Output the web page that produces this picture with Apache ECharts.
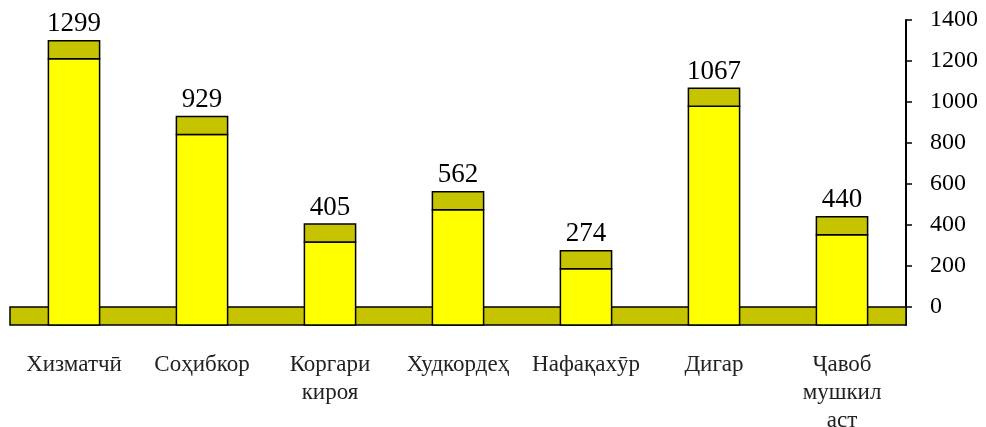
<!DOCTYPE html>
<html>
<head>
<meta charset="utf-8">
<script src="https://cdn.jsdelivr.net/npm/echarts@6/dist/echarts.min.js"></script>
<style>
  html, body { margin: 0; padding: 0; background: #fff; }
  #chart { width: 986px; height: 427px; }
</style>
</head>
<body>
<div id="chart"></div>
<script>
var categories = ['Хизматчӣ', 'Соҳибкор', 'Коргари\nкироя', 'Худкордеҳ', 'Нафақахӯр', 'Дигар', 'Ҷавоб\nмушкил\nаст'];
var values = [1299, 929, 405, 562, 274, 1067, 440];
var tickValues = [0, 200, 400, 600, 800, 1000, 1200, 1400];

// depth of the 3D floor / bar top, in axis units
var DEPTH = 88;
var YELLOW = '#ffff00';
var OLIVE = '#c6c300';

var myChart = echarts.init(document.getElementById('chart'));

function renderBar(params, api) {
    var idx = api.value(0);
    var v = api.value(1);
    var top = api.coord([idx, v]);
    var mid = api.coord([idx, v - DEPTH]);
    var base = api.coord([idx, -DEPTH]);
    var w = api.size([1, 0])[0] * 0.4;
    return {
        type: 'group',
        children: [
            {
                type: 'rect',
                shape: { x: top[0] - w / 2, y: mid[1], width: w, height: base[1] - mid[1] },
                style: { fill: YELLOW, stroke: '#000', lineWidth: 1.5 }
            },
            {
                type: 'rect',
                shape: { x: top[0] - w / 2, y: top[1], width: w, height: mid[1] - top[1] },
                style: { fill: OLIVE, stroke: '#000', lineWidth: 1.5 }
            },
            {
                type: 'text',
                x: top[0],
                y: top[1] - 3,
                style: {
                    text: String(v),
                    align: 'center',
                    verticalAlign: 'bottom',
                    fill: '#000',
                    font: '27px "Liberation Serif"'
                }
            }
        ]
    };
}

var option = {
    animation: false,
    grid: { left: 10, right: 80, top: 20, bottom: 102, outerBoundsMode: 'none', containLabel: false },
    xAxis: {
        type: 'category',
        data: categories,
        axisLine: { show: false },
        axisTick: { show: false },
        axisLabel: {
            interval: 0,
            margin: 26,
            color: '#222',
            fontFamily: 'Liberation Serif',
            fontSize: 23,
            lineHeight: 28
        }
    },
    yAxis: {
        type: 'value',
        position: 'right',
        min: -DEPTH,
        max: 1400,
        splitLine: { show: false },
        axisLine: { show: true, lineStyle: { color: '#000', width: 2 } },
        axisTick: { show: true, length: 6, customValues: tickValues, lineStyle: { color: '#000', width: 1.5 } },
        axisLabel: {
            customValues: tickValues,
            formatter: function (v) { return String(v); },
            margin: 24,
            color: '#000',
            fontFamily: 'Liberation Serif',
            fontSize: 24
        }
    },
    series: [{
        type: 'custom',
        renderItem: renderBar,
        z: 3,
        data: values.map(function (v, i) { return [i, v]; }),
        markArea: {
            silent: true,
            itemStyle: { color: OLIVE, borderColor: '#000', borderWidth: 1.5 },
            data: [[{ yAxis: -DEPTH }, { yAxis: 0 }]]
        }
    }]
};
myChart.setOption(option);
</script>
</body>
</html>
